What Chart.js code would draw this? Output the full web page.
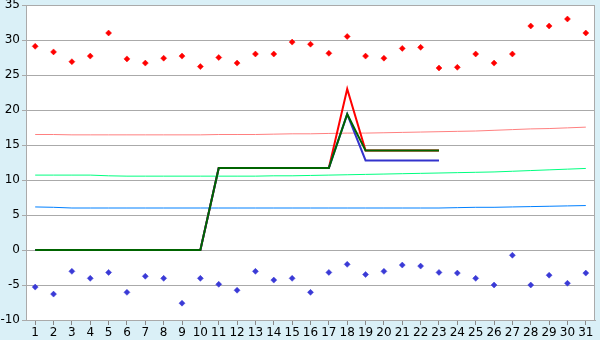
<!DOCTYPE html>
<html>
<head>
<meta charset="utf-8">
<script src="https://cdn.jsdelivr.net/npm/chart.js@4/dist/chart.umd.min.js"></script>
<style>
  html, body { margin: 0; padding: 0; background: #daf0f7; }
  canvas { display: block; }
</style>
</head>
<body>
<canvas id="chart" width="600" height="340"></canvas>
<script>
// days of the month
var days = [];
for (var d = 1; d <= 31; d++) days.push(String(d));

// daily extremes (diamond markers)
var dailyMax = [29.1, 28.3, 26.9, 27.7, 31.0, 27.3, 26.7, 27.4, 27.7, 26.2,
                27.5, 26.7, 28.0, 28.0, 29.7, 29.4, 28.1, 30.5, 27.7, 27.4,
                28.8, 28.95, 26.0, 26.1, 28.0, 26.7, 28.0, 32.0, 32.0, 33.0, 31.0];
var dailyMin = [-5.3, -6.3, -3.05, -4.05, -3.2, -6.05, -3.75, -4.05, -7.6, -4.05,
                -4.9, -5.75, -3.05, -4.3, -4.05, -6.05, -3.2, -2.05, -3.5, -3.05,
                -2.15, -2.3, -3.2, -3.3, -4.05, -5.0, -0.75, -5.0, -3.6, -4.75, -3.3];

// normals (thin lines)
var normalMax = [16.5, 16.5, 16.45, 16.45, 16.45, 16.45, 16.45, 16.45, 16.45, 16.45,
                 16.5, 16.5, 16.5, 16.55, 16.6, 16.6, 16.65, 16.7, 16.7, 16.75,
                 16.8, 16.85, 16.9, 16.95, 17.0, 17.1, 17.2, 17.3, 17.35, 17.45, 17.55];
var normalMean = [10.7, 10.7, 10.7, 10.7, 10.6, 10.55, 10.55, 10.55, 10.55, 10.55,
                  10.55, 10.55, 10.55, 10.6, 10.6, 10.65, 10.7, 10.75, 10.8, 10.85,
                  10.9, 10.95, 11.0, 11.05, 11.1, 11.15, 11.25, 11.35, 11.45, 11.55, 11.65];
var normalMin = [6.15, 6.1, 6.0, 6.0, 6.0, 6.0, 6.0, 6.0, 6.0, 6.0,
                 6.0, 6.0, 6.0, 6.0, 6.0, 6.0, 6.0, 6.0, 6.0, 6.0,
                 6.0, 6.0, 6.0, 6.05, 6.1, 6.1, 6.15, 6.2, 6.25, 6.3, 6.35];

// thick lines (days 1..23)
var seriesRed = [0, 0, 0, 0, 0, 0, 0, 0, 0, 0,
                 11.7, 11.7, 11.7, 11.7, 11.7, 11.7, 11.7, 23.0, 14.2, 14.2,
                 14.2, 14.2, 14.2];
var seriesBlue = [0, 0, 0, 0, 0, 0, 0, 0, 0, 0,
                  11.7, 11.7, 11.7, 11.7, 11.7, 11.7, 11.7, 19.4, 12.8, 12.8,
                  12.8, 12.8, 12.8];
var seriesGreen = [0, 0, 0, 0, 0, 0, 0, 0, 0, 0,
                   11.7, 11.7, 11.7, 11.7, 11.7, 11.7, 11.7, 19.4, 14.2, 14.2,
                   14.2, 14.2, 14.2];

var yTicks = [-10, -5, 0, 5, 10, 15, 20, 25, 30, 35];

// white plot area + grey frame
var plotFrame = {
  id: 'plotFrame',
  beforeDraw: function (chart) {
    var a = chart.chartArea, ctx = chart.ctx;
    ctx.save();
    ctx.fillStyle = '#ffffff';
    ctx.fillRect(a.left, a.top, a.right - a.left, a.bottom - a.top);
    ctx.restore();
  },
  afterDraw: function (chart) {
    var a = chart.chartArea, ctx = chart.ctx;
    ctx.save();
    ctx.strokeStyle = '#aaaaaa';
    ctx.lineWidth = 1;
    ctx.strokeRect(a.left + 0.5, a.top + 0.5, a.right - a.left - 1, a.bottom - a.top);
    ctx.restore();
  }
};

// lower order is drawn on top
function thin(data, colour, order) {
  return { data: data, order: order, borderColor: colour, borderWidth: 1, pointRadius: 0, fill: false, tension: 0 };
}
function thick(data, colour, order) {
  return { data: data, order: order, borderColor: colour, borderWidth: 2, pointRadius: 0, fill: false, tension: 0 };
}
function dots(data, colour) {
  return {
    data: data, order: 0, showLine: false, pointStyle: 'rectRot', pointRadius: 3,
    pointBackgroundColor: colour, pointBorderColor: colour, pointBorderWidth: 0.5
  };
}

new Chart(document.getElementById('chart'), {
  type: 'line',
  data: {
    labels: days,
    datasets: [
      thin(normalMax, '#ff8080', 6),
      thin(normalMean, '#00ff80', 5),
      thin(normalMin, '#0080ff', 4),
      thick(seriesRed, '#ff0000', 3),
      thick(seriesBlue, '#3333cc', 2),
      thick(seriesGreen, '#006400', 1),
      dots(dailyMax, '#ff0000'),
      dots(dailyMin, '#3a3ad6')
    ]
  },
  options: {
    responsive: false,
    animation: false,
    devicePixelRatio: 1,
    layout: { padding: { top: 5, right: 5, left: 0, bottom: 0 } },
    plugins: { legend: { display: false }, tooltip: { enabled: false } },
    scales: {
      x: {
        offset: true,
        grid: { offset: false, drawOnChartArea: false, drawTicks: true, tickLength: 5, color: '#888888' },
        border: { color: '#aaaaaa' },
        ticks: { color: '#000', font: { family: 'DejaVu Sans', size: 12 }, padding: 1, autoSkip: false, maxRotation: 0 },
        afterFit: function (s) { s.height = 20; s.paddingLeft = 0; s.paddingRight = 0; }
      },
      y: {
        min: -10, max: 35,
        afterBuildTicks: function (s) { s.ticks = yTicks.map(function (v) { return { value: v }; }); },
        grid: { color: '#aaaaaa', tickLength: 4, drawTicks: true },
        border: { color: '#aaaaaa' },
        ticks: { color: '#000', font: { family: 'DejaVu Sans', size: 12 }, padding: 2 },
        afterFit: function (s) { s.width = 26; s.paddingTop = 0; s.paddingBottom = 0; }
      }
    }
  },
  plugins: [plotFrame]
});
</script>
</body>
</html>
